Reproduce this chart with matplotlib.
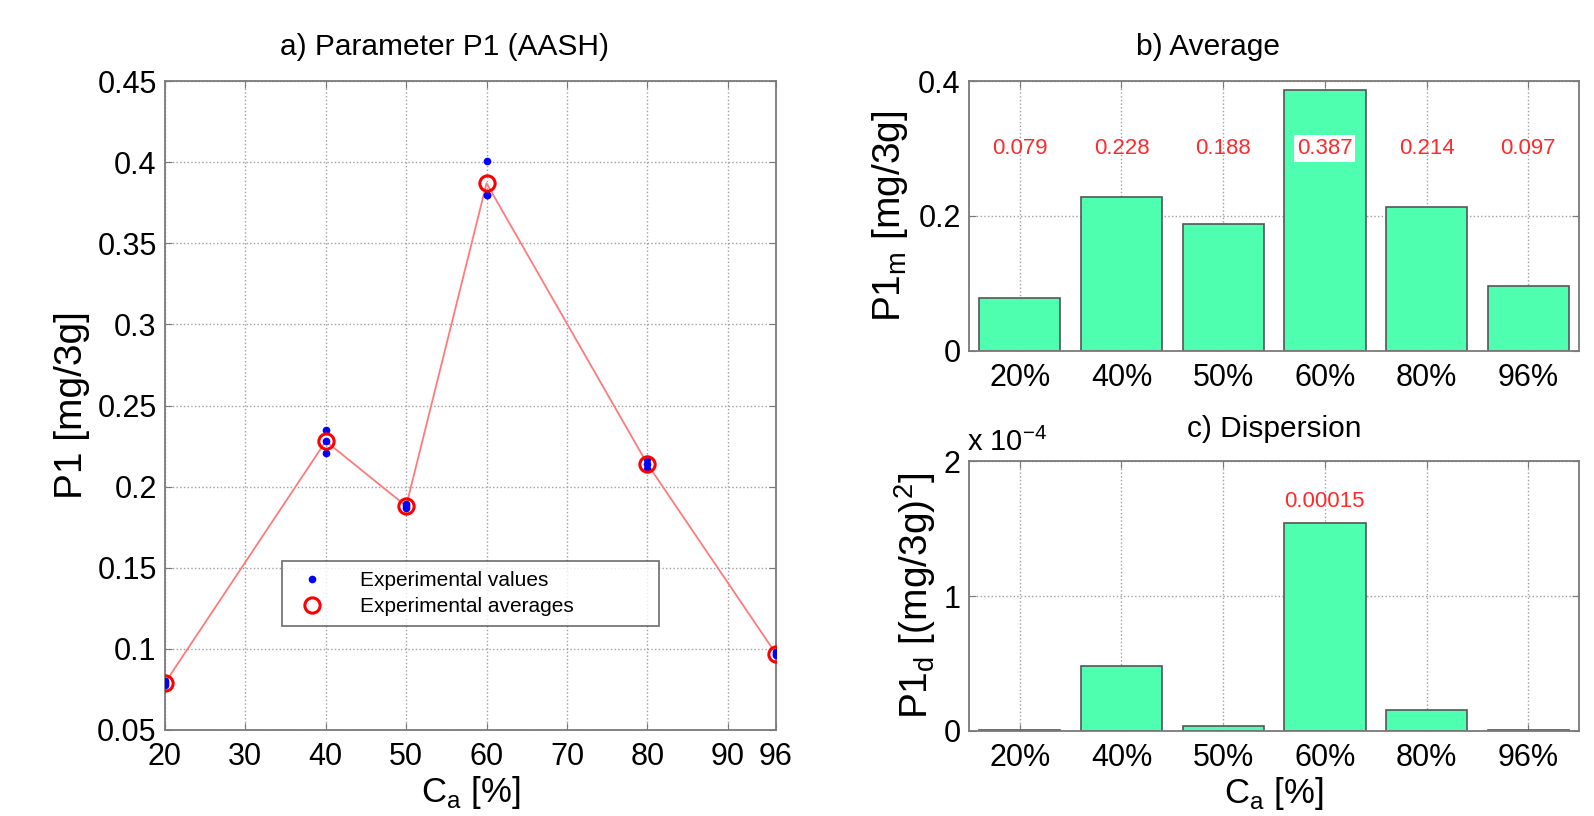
"""Parameter P1 (AASH): experimental values, averages and dispersion."""

import matplotlib

matplotlib.use("Agg")
import matplotlib.pyplot as plt
import numpy as np
from matplotlib.ticker import FuncFormatter

plt.rcParams["font.family"] = ["Liberation Sans", "DejaVu Sans"]
plt.rcParams["mathtext.fontset"] = "custom"
plt.rcParams["mathtext.rm"] = "Liberation Sans"

# concentration levels
ca = [20, 40, 50, 60, 80, 96]
ca_labels = ["20%", "40%", "50%", "60%", "80%", "96%"]

# three repeated measurements per level
exp_1 = [0.078, 0.235, 0.189, 0.401, 0.217, 0.097]
exp_2 = [0.080, 0.228, 0.187, 0.380, 0.214, 0.096]
exp_3 = [0.079, 0.221, 0.188, 0.380, 0.211, 0.098]

# averages (b) and dispersion (c)
p1_mean = [0.079, 0.228, 0.188, 0.387, 0.214, 0.097]
p1_disp = [0.008e-4, 0.485e-4, 0.035e-4, 1.54e-4, 0.155e-4, 0.004e-4]
disp_label = "0.00015"

bar_color = "#4dffaf"
grid_kw = dict(color="#a0a0a0", linestyle=":", linewidth=1.0)
spine_color = "#7a7a7a"
TICK_FS = 22
XLABEL_FS = 25
YLABEL_FS = 28
TITLE_FS = 21.5


def style_axes(ax):
    for s in ax.spines.values():
        s.set_color(spine_color)
        s.set_linewidth(1.3)
    ax.tick_params(direction="in", top=True, right=True, labelsize=TICK_FS,
                   color=spine_color, length=5)
    ax.tick_params(axis="x", pad=9)
    ax.tick_params(axis="y", pad=6)
    ax.grid(True, **grid_kw)
    ax.set_axisbelow(True)


fig = plt.figure(figsize=(15.94, 8.16), dpi=100)

# a) experimental values and averages
ax1 = fig.add_axes([0.1035, 0.1054, 0.3833, 0.7953])
style_axes(ax1)
ax1.plot(ca, p1_mean, "-", color="#ff7a7a", linewidth=1.3, zorder=2)
ax1.plot(ca, exp_1, ".", color="blue", markersize=9, zorder=3,
         label="Experimental values")
ax1.plot(ca, exp_2, ".", color="blue", markersize=9, zorder=3)
ax1.plot(ca, exp_3, ".", color="blue", markersize=9, zorder=3)
ax1.plot(ca, p1_mean, "o", mfc="none", mec="red", mew=2.2, markersize=11,
         zorder=4, label="Experimental averages")
ax1.set_xlim(20, 96)
ax1.set_ylim(0.05, 0.45)
ax1.set_xticks([20, 30, 40, 50, 60, 70, 80, 90, 96])
ax1.set_yticks(np.arange(0.05, 0.451, 0.05))
ax1.yaxis.set_major_formatter(FuncFormatter(lambda v, p: f"{v:.2f}".rstrip("0")))
ax1.set_title("a) Parameter P1 (AASH)", fontsize=TITLE_FS, pad=19, x=0.458)
ax1.set_ylabel("P1 [mg/3g]", fontsize=YLABEL_FS, labelpad=5)
ax1.set_xlabel(r"C$_\mathrm{a}$ [%]", fontsize=XLABEL_FS, labelpad=1)
leg = ax1.legend(loc="lower left", bbox_to_anchor=(0.192, 0.161, 0.616, 0.105),
                 mode="expand", borderaxespad=0, fontsize=15, frameon=True,
                 fancybox=False, borderpad=0.45, handletextpad=1.3,
                 labelspacing=0.35)
leg.get_frame().set_edgecolor("#555555")
leg.get_frame().set_linewidth(1.3)

pos = np.arange(1, len(ca) + 1)

# b) averages
ax2 = fig.add_axes([0.6079, 0.5699, 0.3827, 0.3308])
style_axes(ax2)
ax2.bar(pos, p1_mean, width=0.8, color=bar_color, edgecolor="#555555",
        linewidth=1.2, zorder=2)
ax2.set_xlim(0.5, 6.5)
ax2.set_ylim(0, 0.4)
ax2.set_yticks([0, 0.2, 0.4])
ax2.yaxis.set_major_formatter(FuncFormatter(lambda v, p: "0" if v == 0 else f"{v:g}"))
ax2.set_xticks(pos)
ax2.set_xticklabels(ca_labels)
ax2.set_title("b) Average", fontsize=TITLE_FS, pad=19, x=0.392)
ax2.set_ylabel(r"P1$_\mathrm{m}$ [mg/3g]", fontsize=YLABEL_FS, labelpad=6)
for x, v in zip(pos, p1_mean):
    bbox = dict(facecolor="white", edgecolor="none", pad=2) if v > 0.30 else None
    ax2.text(x, 0.30, f"{v:.3f}", color="#ff2a2a", fontsize=16,
             ha="center", va="center", bbox=bbox, zorder=5)

# c) dispersion
ax3 = fig.add_axes([0.6079, 0.1042, 0.3827, 0.3308])
style_axes(ax3)
ax3.bar(pos, p1_disp, width=0.8, color=bar_color, edgecolor="#555555",
        linewidth=1.2, zorder=2)
ax3.set_xlim(0.5, 6.5)
ax3.set_ylim(0, 2e-4)
ax3.set_yticks([0, 1e-4, 2e-4])
ax3.yaxis.set_major_formatter(FuncFormatter(lambda v, p: f"{v * 1e4:.0f}"))
ax3.set_xticks(pos)
ax3.set_xticklabels(ca_labels)
ax3.text(-0.003, 1.015, r"x 10$^{-4}$", transform=ax3.transAxes, fontsize=21,
         ha="left", va="bottom")
ax3.set_title("c) Dispersion", fontsize=TITLE_FS, pad=17)
ax3.set_ylabel(r"P1$_\mathrm{d}$ [(mg/3g)$^2$]", fontsize=YLABEL_FS, labelpad=4)
ax3.set_xlabel(r"C$_\mathrm{a}$ [%]", fontsize=XLABEL_FS, labelpad=1)
i_max = int(np.argmax(p1_disp))
ax3.text(pos[i_max], p1_disp[i_max] + 0.08e-4, disp_label, color="#ff2a2a",
         fontsize=16, ha="center", va="bottom", zorder=5)

fig.savefig("out.png", dpi=100)
